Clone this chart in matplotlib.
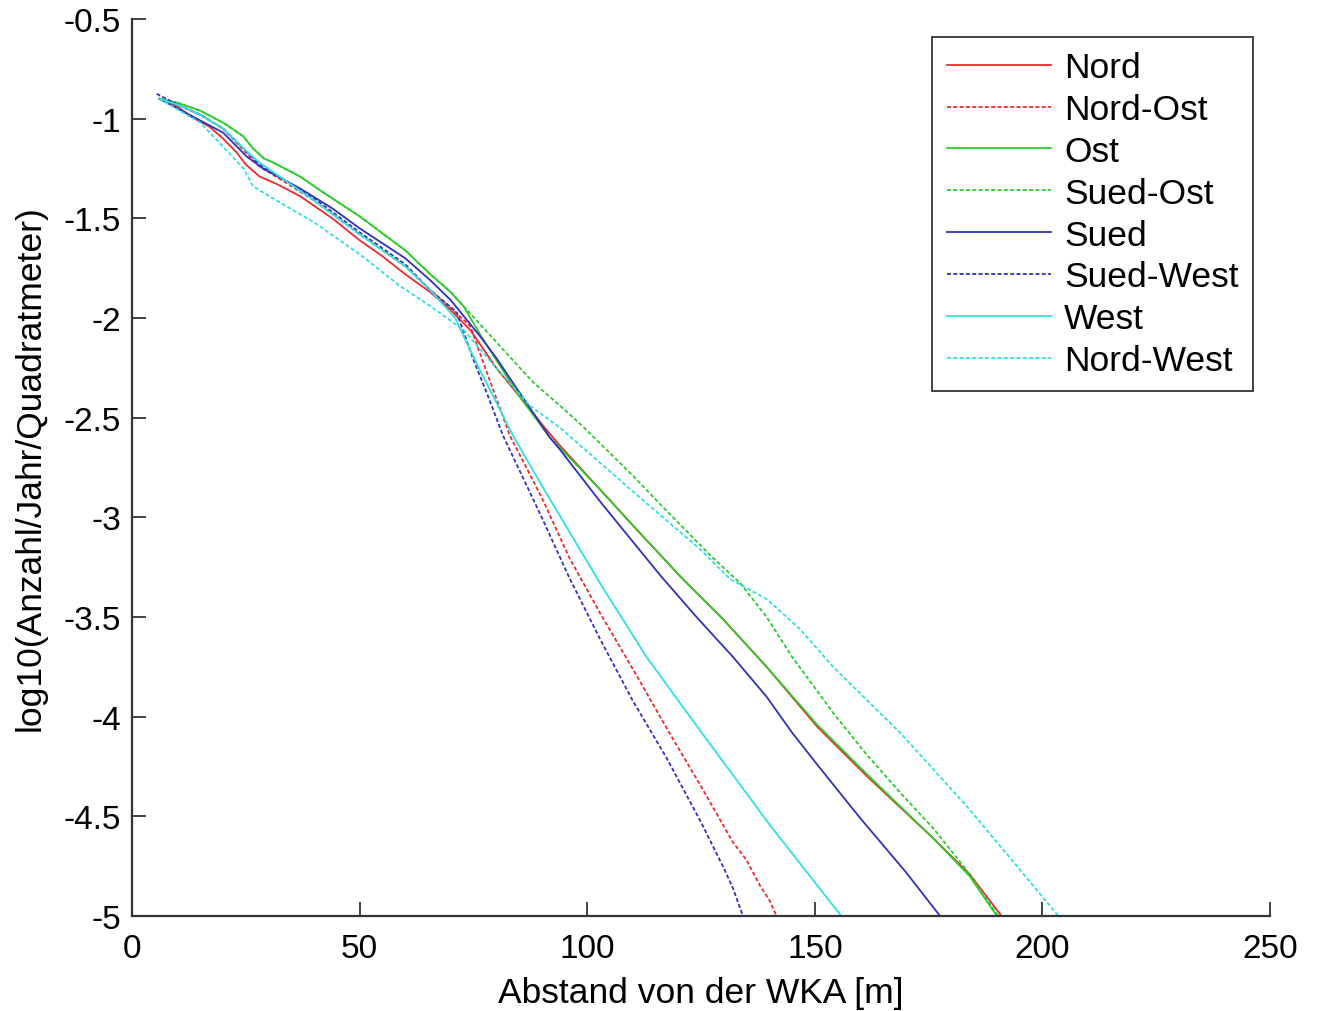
import matplotlib
matplotlib.use("Agg")
import matplotlib.pyplot as plt

plt.rcParams['font.family'] = ['Liberation Sans', 'DejaVu Sans']

# Abstand [m] und log10(Anzahl/Jahr/m^2) je Windrichtung
nord_x = [6, 10, 13, 17, 20, 23, 25, 28, 32, 37, 44, 50, 55, 60, 65.5, 70, 74.3, 80, 85, 91, 94,
          102.8, 110, 121, 129.8, 139.4, 150.5, 161.5, 176, 184, 191]
nord_y = [-0.90, -0.94, -0.99, -1.04, -1.10, -1.17, -1.23, -1.29, -1.33, -1.39, -1.50, -1.61, -1.69,
          -1.78, -1.87, -1.96, -2.06, -2.25, -2.39, -2.56, -2.64, -2.86, -3.04, -3.31, -3.51, -3.75,
          -4.05, -4.30, -4.61, -4.79, -5.0]

nordost_x = [6, 10, 15, 20, 25, 28, 33, 40, 50, 60, 65.5, 70, 74.3, 77.1, 83, 90, 96, 102.8, 110,
             117.5, 125, 132, 135, 138, 140, 141.6]
nordost_y = [-0.90, -0.93, -0.98, -1.05, -1.17, -1.24, -1.31, -1.41, -1.58, -1.74, -1.86, -1.95,
             -2.04, -2.22, -2.59, -2.90, -3.20, -3.48, -3.76, -4.06, -4.35, -4.63, -4.72, -4.85,
             -4.92, -5.0]

ost_x = [6, 10, 15, 20, 22, 24.5, 26.6, 29, 31, 36.9, 42, 50, 60, 65.5, 70, 72.8, 76.4, 80, 85, 91.8,
         94, 102.8, 110, 121, 129.8, 139.4, 150.5, 161.5, 176, 184, 190]
ost_y = [-0.90, -0.92, -0.96, -1.02, -1.05, -1.09, -1.15, -1.20, -1.22, -1.29, -1.37, -1.49, -1.66,
         -1.78, -1.87, -1.94, -2.08, -2.21, -2.39, -2.60, -2.65, -2.86, -3.04, -3.31, -3.51, -3.75,
         -4.04, -4.29, -4.61, -4.80, -5.0]

suedost_x = [6, 10, 15, 20, 22, 24.5, 26.6, 29, 31, 36.9, 42, 50, 60, 65.5, 70, 72.8, 80, 88, 94,
             98.4, 110, 115, 121, 127, 133.6, 139.4, 145, 154, 161, 168.7, 176, 183, 190.3]
suedost_y = [-0.90, -0.92, -0.96, -1.02, -1.05, -1.09, -1.15, -1.20, -1.22, -1.29, -1.37, -1.49,
             -1.66, -1.78, -1.87, -1.94, -2.12, -2.32, -2.44, -2.53, -2.79, -2.91, -3.05, -3.19,
             -3.33, -3.50, -3.70, -3.98, -4.18, -4.38, -4.56, -4.76, -5.0]

sued_x = [6, 13.4, 20, 25.2, 28.8, 36.9, 44, 50, 60, 65.5, 70, 76.4, 80, 85, 91.8, 94, 102.8, 116,
          124, 132, 139.4, 145, 150.5, 160, 170, 177.5]
sued_y = [-0.90, -0.99, -1.07, -1.19, -1.25, -1.35, -1.45, -1.55, -1.70, -1.81, -1.91, -2.09,
          -2.20, -2.37, -2.60, -2.66, -2.92, -3.29, -3.50, -3.70, -3.90, -4.08, -4.24, -4.51,
          -4.78, -5.0]

suedwest_x = [5.4, 10, 15, 20, 25, 28, 33, 40, 50, 60, 65.5, 71.3, 75, 78, 81.5, 90, 96, 102.8, 110,
              117.5, 125, 130, 132, 134.2]
suedwest_y = [-0.875, -0.93, -0.98, -1.05, -1.16, -1.23, -1.30, -1.40, -1.57, -1.73, -1.86, -1.97,
              -2.21, -2.38, -2.59, -3.00, -3.30, -3.61, -3.92, -4.21, -4.53, -4.76, -4.86, -5.0]

west_x = [6, 10, 15, 20, 25, 28, 33, 40, 50, 60, 65.5, 71, 72.8, 76.4, 83.7, 90, 102.8, 113, 124.8,
          140, 155.8]
west_y = [-0.90, -0.93, -0.98, -1.05, -1.16, -1.22, -1.30, -1.41, -1.58, -1.74, -1.86, -2.00, -2.09,
          -2.26, -2.59, -2.84, -3.33, -3.70, -4.07, -4.54, -5.0]

nordwest_x = [6, 9, 15, 20, 24.5, 26.6, 31, 33.2, 40, 50, 58.9, 65.5, 72.8, 80, 87.4, 94, 110, 124.8,
              131.4, 139.4, 146.7, 154, 168.7, 183.4, 194.4, 203.5]
nordwest_y = [-0.90, -0.94, -1.02, -1.14, -1.25, -1.34, -1.40, -1.43, -1.52, -1.68, -1.84, -1.94,
              -2.06, -2.25, -2.44, -2.55, -2.87, -3.16, -3.31, -3.41, -3.56, -3.75, -4.08, -4.45,
              -4.75, -5.0]

red = '#ee2a2a'
green = '#2ccc2c'
blue = '#3030c0'
cyan = '#30e0e0'
dash = (0, (2.2, 1.3))

fig = plt.figure(figsize=(13.18, 10.12), dpi=100)
ax = fig.add_axes([0.1002, 0.0939, 0.8634, 0.8863])

ax.plot(nord_x, nord_y, color=red, lw=1.3, label='Nord')
ax.plot(nordost_x, nordost_y, color=red, lw=1.3, ls=dash, label='Nord-Ost')
ax.plot(ost_x, ost_y, color=green, lw=1.3, label='Ost')
ax.plot(suedost_x, suedost_y, color=green, lw=1.3, ls=dash, label='Sued-Ost')
ax.plot(sued_x, sued_y, color=blue, lw=1.3, label='Sued')
ax.plot(suedwest_x, suedwest_y, color=blue, lw=1.3, ls=dash, label='Sued-West')
ax.plot(west_x, west_y, color=cyan, lw=1.3, label='West')
ax.plot(nordwest_x, nordwest_y, color=cyan, lw=1.3, ls=dash, label='Nord-West')

ax.set_xlim(0, 250)
ax.set_ylim(-5, -0.5)
ax.set_xticks([0, 50, 100, 150, 200, 250])
ax.set_yticks([-5, -4.5, -4, -3.5, -3, -2.5, -2, -1.5, -1, -0.5])
ax.set_yticklabels(['-5', '-4.5', '-4', '-3.5', '-3', '-2.5', '-2', '-1.5', '-1', '-0.5'])

for s in ['top', 'right']:
    ax.spines[s].set_visible(False)
for s in ['left', 'bottom']:
    ax.spines[s].set_color('#333333')
    ax.spines[s].set_linewidth(1.6)
ax.tick_params(direction='in', length=10, width=1.3, labelsize=24, colors='#333333',
               labelcolor='black', pad=8)
ax.tick_params(axis='x', pad=12)

ax.set_xlabel('Abstand von der WKA [m]', fontsize=25.5, labelpad=9)
ax.set_ylabel('log10(Anzahl/Jahr/Quadratmeter)', fontsize=25.5, labelpad=12)

leg = ax.legend(loc='upper right', bbox_to_anchor=(0.985, 0.98), fontsize=25.5, fancybox=False,
                edgecolor='black', handlelength=2.95, handletextpad=0.37, labelspacing=0.25,
                borderpad=0.4, borderaxespad=0)
leg.get_frame().set_linewidth(1.3)

fig.savefig('out.png', dpi=100)
